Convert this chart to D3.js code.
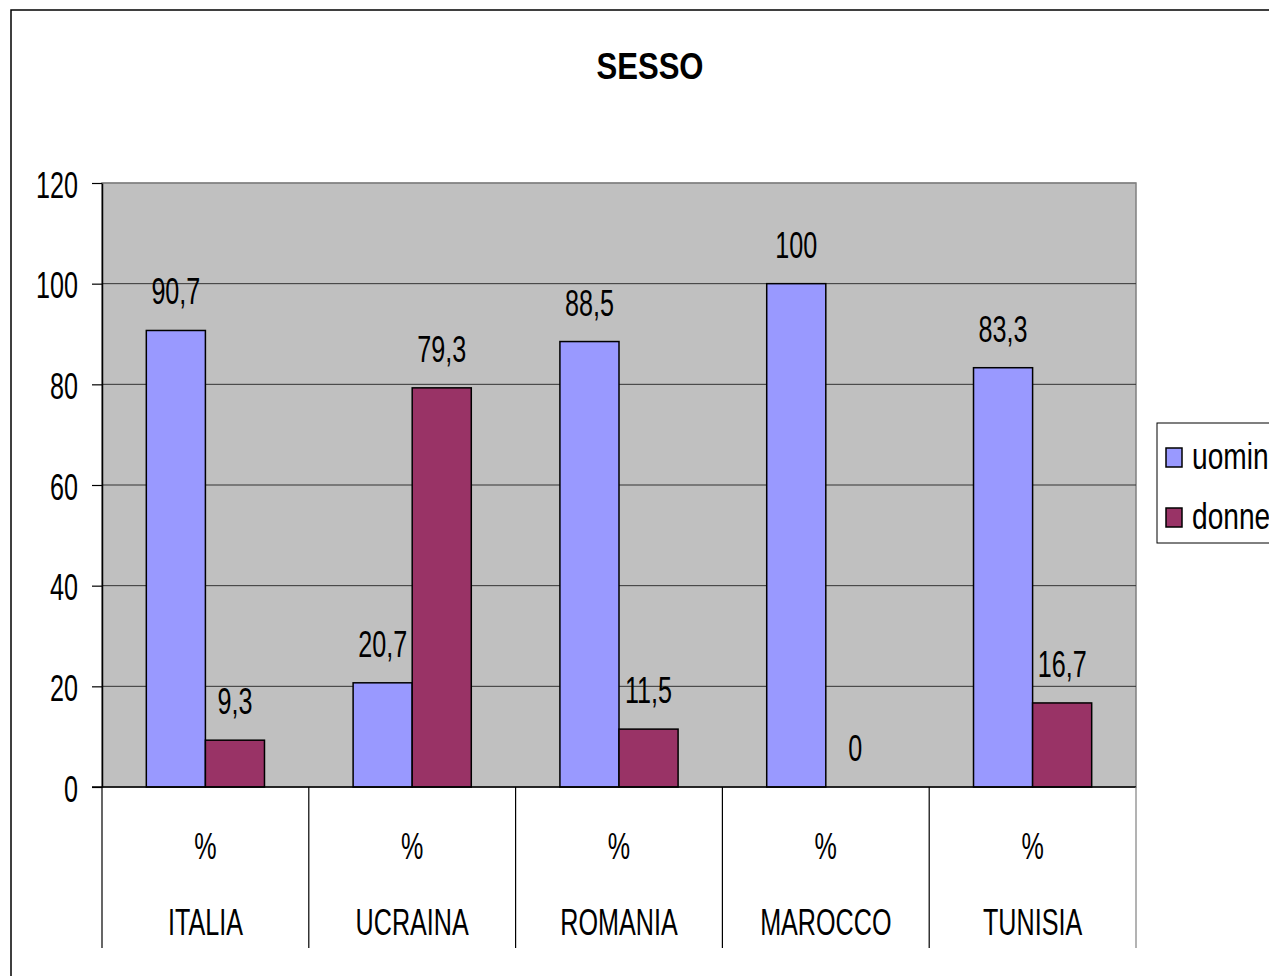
<!DOCTYPE html>
<html>
<head>
<meta charset="utf-8">
<script src="https://cdn.jsdelivr.net/npm/d3@7"></script>
<style>
  body { margin: 0; background: #fff; }
  text { font-family: "Liberation Sans", Arial, sans-serif; fill: #000; }
</style>
</head>
<body>
<div id="chart"></div>
<script>
// data
const categories = ["ITALIA", "UCRAINA", "ROMANIA", "MAROCCO", "TUNISIA"];
const series = ["uomini", "donne"];
const uomini = [90.7, 20.7, 88.5, 100, 83.3];
const donne = [9.3, 79.3, 11.5, 0, 16.7];
const unitLabel = "%";
const yTicks = [0, 20, 40, 60, 80, 100, 120];
const colors = { uomini: "#9999FF", donne: "#993366" };

const W = 1269, H = 976;
const plot = { left: 102, right: 1136, top: 183, bottom: 787 };
const fs = 37, squeeze = 0.68;

const svg = d3.select("#chart").append("svg")
    .attr("width", W).attr("height", H);

// squeezed text helper (the original font is a condensed Arial)
function label(g, x, y, s, anchor, opts = {}) {
    return g.append("text")
        .attr("transform", `translate(${x},${y}) scale(${opts.sx || squeeze},1)`)
        .attr("text-anchor", anchor || "middle")
        .attr("font-size", opts.size || fs)
        .attr("font-weight", opts.weight || "normal")
        .text(s);
}

// outer frame (runs off the right/bottom of the picture)
svg.append("rect")
    .attr("x", 11).attr("y", 10).attr("width", 1300).attr("height", 1000)
    .attr("fill", "#fff").attr("stroke", "#000").attr("stroke-width", 1.5);

// title
label(svg, 650, 79, "SESSO", "middle", { weight: "bold", sx: 0.84 });

// scales
const x = d3.scaleBand().domain(categories).range([plot.left, plot.right]).padding(0);
const x1 = d3.scaleBand().domain(series).range([0, x.bandwidth()]).paddingInner(0).paddingOuter(0.75);
const y = d3.scaleLinear().domain([0, 120]).range([plot.bottom, plot.top]);

// plot background
svg.append("rect")
    .attr("x", plot.left).attr("y", plot.top)
    .attr("width", plot.right - plot.left).attr("height", plot.bottom - plot.top)
    .attr("fill", "#C0C0C0").attr("stroke", "#808080").attr("stroke-width", 1.5);

// gridlines
svg.append("g").selectAll("line")
    .data(yTicks.filter(d => d > 0))
    .join("line")
    .attr("x1", plot.left).attr("x2", plot.right)
    .attr("y1", d => y(d)).attr("y2", d => y(d))
    .attr("stroke", d => d === 120 ? "#808080" : "#333").attr("stroke-width", 1);

// y axis
const yAxis = svg.append("g")
    .attr("transform", `translate(${plot.left},0)`)
    .call(d3.axisLeft(y).tickValues(yTicks).tickSize(10).tickSizeOuter(0));
yAxis.select(".domain").attr("stroke", "#000").attr("stroke-width", 1.5);
yAxis.selectAll(".tick line").attr("stroke", "#000").attr("stroke-width", 1.2);
yAxis.selectAll(".tick text")
    .attr("x", null).attr("dy", null)
    .attr("transform", `translate(-24,14) scale(${squeeze},1)`)
    .attr("font-size", fs)
    .attr("font-family", "Liberation Sans, Arial, sans-serif")
    .attr("fill", "#000");

// bars
const rows = categories.map((c, i) => ({ cat: c, uomini: uomini[i], donne: donne[i] }));
const groups = svg.append("g").selectAll("g")
    .data(rows)
    .join("g")
    .attr("transform", d => `translate(${x(d.cat)},0)`);

groups.selectAll("rect")
    .data(d => series.map(s => ({ key: s, value: d[s] })))
    .join("rect")
    .attr("x", d => x1(d.key))
    .attr("y", d => y(d.value))
    .attr("width", x1.bandwidth())
    .attr("height", d => y(0) - y(d.value))
    .attr("fill", d => colors[d.key])
    .attr("stroke", "#000").attr("stroke-width", 1.5);

// value labels
groups.each(function (d) {
    const g = d3.select(this);
    series.forEach(s => {
        label(g, x1(s) + x1.bandwidth() / 2, y(d[s]) - 26,
            String(d[s]).replace(".", ","), "middle");
    });
});

// x axis baseline
svg.append("line")
    .attr("x1", plot.left - 10).attr("x2", plot.right)
    .attr("y1", plot.bottom).attr("y2", plot.bottom)
    .attr("stroke", "#000").attr("stroke-width", 1.5);

// category table separators
const bounds = categories.map(c => x(c)).concat([plot.right]);
svg.append("g").selectAll("line")
    .data(bounds)
    .join("line")
    .attr("x1", d => d).attr("x2", d => d)
    .attr("y1", plot.bottom).attr("y2", 948)
    .attr("stroke", (d, i) => i === bounds.length - 1 ? "#808080" : "#000")
    .attr("stroke-width", 1.2);

// category labels
const catG = svg.append("g");
categories.forEach(c => {
    const cx = x(c) + x.bandwidth() / 2;
    label(catG, cx, 859, unitLabel, "middle");
    label(catG, cx, 935, c, "middle");
});

// legend
const leg = svg.append("g");
leg.append("rect")
    .attr("x", 1157).attr("y", 423).attr("width", 140).attr("height", 120)
    .attr("fill", "#fff").attr("stroke", "#000").attr("stroke-width", 1);
series.forEach((s, i) => {
    const cy = 457 + i * 60;
    leg.append("rect")
        .attr("x", 1166).attr("y", cy - 9).attr("width", 16).attr("height", 19)
        .attr("fill", colors[s]).attr("stroke", "#000").attr("stroke-width", 1.5);
    label(leg, 1192, cy + 12, s, "start", { sx: 0.76 });
});
</script>
</body>
</html>
